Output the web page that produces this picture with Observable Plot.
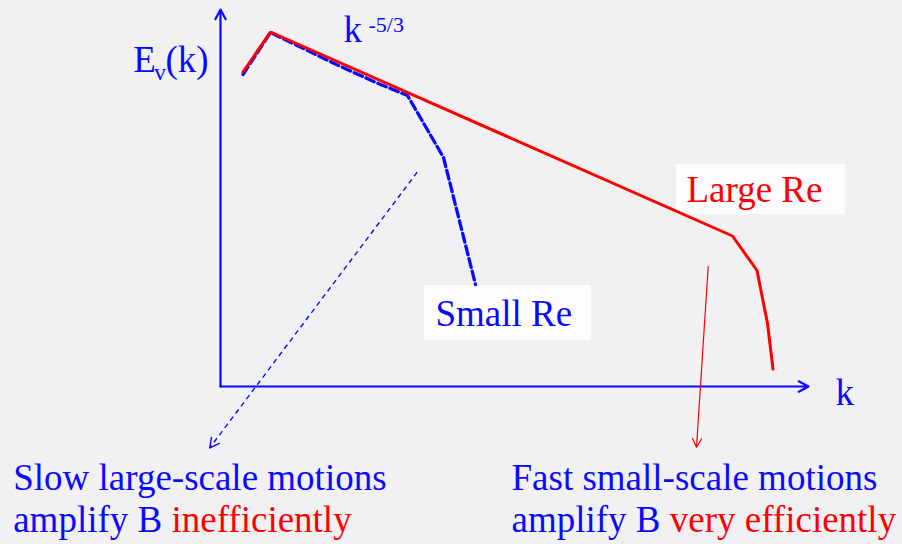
<!DOCTYPE html>
<html>
<head>
<meta charset="utf-8">
<script src="https://cdn.jsdelivr.net/npm/d3@7"></script>
<script src="https://cdn.jsdelivr.net/npm/@observablehq/plot@0.6"></script>
<style>
  html, body { margin: 0; padding: 0; background: #f1f1f4; }
  #chart svg { display: block; }
  #chart svg text { font-family: "Liberation Serif", "Tinos", "Times New Roman", "DejaVu Serif", serif; }
</style>
</head>
<body>
<div id="chart"></div>
<script>
// ---- Data (chart units: k along the horizontal axis, E_v(k) along the vertical axis) ----
const largeReK = [22.5, 50, 512, 536.5, 547, 552.5];
const largeReE = [314.5, 354.5, 150.5, 116, 63, 17.5];
const smallReK = [22.5, 50, 120, 160, 187, 223, 255];
const smallReE = [312, 354, 320, 302, 291, 229, 102];

const axisStart = [[0, 0], [0, 0]];
const axisEnd = [[0, 377], [588, 0]];

const slowArrowFrom = [196.7, 214.3];
const slowArrowTo = [-10.7, -61.3];
const fastArrowFrom = [487.7, 120];
const fastArrowTo = [476, -60.7];

const largeReBox = {k1: 456, k2: 625, e1: 172, e2: 222};
const smallReBox = {k1: 204, k2: 371, e1: 46, e2: 101};

const mainLabels = [
  {text: "E", k: -87.3, e: 314.3, color: "blue"},
  {text: "(k)", k: -55, e: 314.3, color: "blue"},
  {text: "k", k: 123, e: 344.3, color: "blue"},
  {text: "k", k: 615, e: -18, color: "blue"},
  {text: "Large Re", k: 466, e: 184.3, color: "red"},
  {text: "Small Re", k: 215, e: 61, color: "blue"},
  {text: "Slow large-scale motions", k: -207.3, e: -103, color: "blue"},
  {text: "amplify B", k: -207.3, e: -145.7, color: "blue"},
  {text: "inefficiently", k: -49, e: -145.7, color: "red"},
  {text: "Fast small-scale motions", k: 291, e: -103, color: "blue"},
  {text: "amplify B", k: 291, e: -145.7, color: "blue"},
  {text: "very efficiently", k: 449.3, e: -145.7, color: "red"}
];
const subLabels = [{text: "v", k: -66.5, e: 307}];
const supLabels = [{text: "-5/3", k: 148, e: 354.5}];

// ---- Derived tables ----
const largeRe = largeReK.map((k, i) => ({k, e: largeReE[i]}));
const smallRe = smallReK.map((k, i) => ({k, e: smallReE[i]}));
const axes = axisStart.map((s, i) => ({x1: s[0], y1: s[1], x2: axisEnd[i][0], y2: axisEnd[i][1]}));

// arrowhead wings for the dashed annotation arrow (solid head)
function wings(from, to, len, halfAngleDeg) {
  const dx = from[0] - to[0], dy = from[1] - to[1];
  const d = Math.hypot(dx, dy), ux = dx / d, uy = dy / d;
  const a = halfAngleDeg * Math.PI / 180;
  return [a, -a].map(t => ({
    x1: to[0], y1: to[1],
    x2: to[0] + len * (ux * Math.cos(t) - uy * Math.sin(t)),
    y2: to[1] + len * (ux * Math.sin(t) + uy * Math.cos(t))
  }));
}
const slowHead = wings(slowArrowFrom, slowArrowTo, 10.5, 28);

const BLUE = "#0a0aff";
const RED = "#ff0000";
const serif = "Liberation Serif, Tinos, Times New Roman, DejaVu Serif, serif";

const chart = Plot.plot({
  width: 902,
  height: 544,
  marginTop: 0, marginRight: 0, marginBottom: 0, marginLeft: 0,
  x: {domain: [-220, 682], axis: null},
  y: {domain: [-158, 386], axis: null},
  style: {background: "#f1f1f4", overflow: "visible"},
  marks: [
    // text boxes
    Plot.rect([largeReBox, smallReBox], {x1: "k1", x2: "k2", y1: "e1", y2: "e2", fill: "#fdfcff"}),
    // axes with arrowheads
    Plot.arrow(axes, {x1: "x1", y1: "y1", x2: "x2", y2: "y2", stroke: BLUE, strokeWidth: 2.2, headLength: 7.5, headAngle: 56}),
    // dashed annotation arrow
    Plot.link([{x1: slowArrowFrom[0], y1: slowArrowFrom[1], x2: slowArrowTo[0], y2: slowArrowTo[1]}],
      {x1: "x1", y1: "y1", x2: "x2", y2: "y2", stroke: BLUE, strokeWidth: 1.4, strokeDasharray: "5,4"}),
    Plot.link(slowHead, {x1: "x1", y1: "y1", x2: "x2", y2: "y2", stroke: BLUE, strokeWidth: 1.4, strokeLinecap: "round"}),
    // red annotation arrow
    Plot.arrow([{x1: fastArrowFrom[0], y1: fastArrowFrom[1], x2: fastArrowTo[0], y2: fastArrowTo[1]}],
      {x1: "x1", y1: "y1", x2: "x2", y2: "y2", stroke: RED, strokeWidth: 1.2, headLength: 12, headAngle: 56}),
    // spectra
    Plot.line(smallRe, {x: "k", y: "e", stroke: BLUE, strokeWidth: 3.3, strokeDasharray: "9,4", strokeLinejoin: "round"}),
    Plot.line(largeRe, {x: "k", y: "e", stroke: RED, strokeWidth: 3, strokeLinejoin: "miter"}),
    // labels
    Plot.text(mainLabels, {x: "k", y: "e", text: "text", fill: d => d.color === "red" ? RED : BLUE,
      fontSize: 37, textAnchor: "start", lineAnchor: "bottom", fontFamily: serif}),
    Plot.text(subLabels, {x: "k", y: "e", text: "text", fill: BLUE, fontSize: 24,
      textAnchor: "start", lineAnchor: "bottom", fontFamily: serif}),
    Plot.text(supLabels, {x: "k", y: "e", text: "text", fill: BLUE, fontSize: 22,
      textAnchor: "start", lineAnchor: "bottom", fontFamily: serif})
  ]
});
document.getElementById("chart").appendChild(chart);
</script>
</body>
</html>
